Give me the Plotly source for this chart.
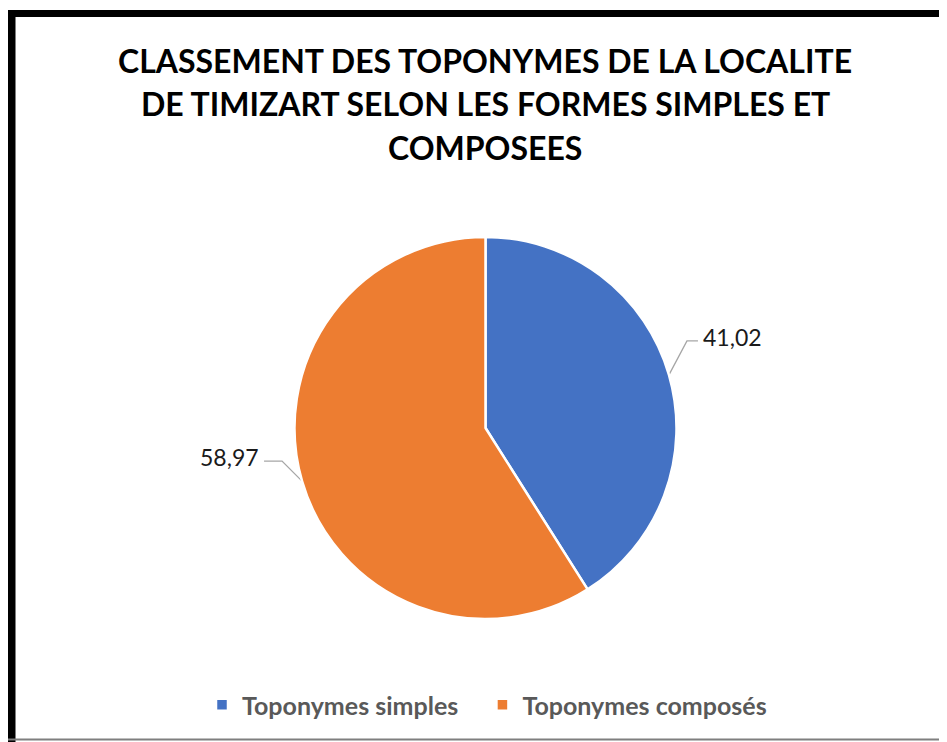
import math
import plotly.graph_objs as go

labels = ["Toponymes simples", "Toponymes composés"]
values = [41.02, 58.97]
colors = ["#4472C4", "#ED7D31"]
title_lines = [
    "CLASSEMENT DES TOPONYMES DE LA LOCALITE",
    "DE TIMIZART SELON LES FORMES SIMPLES ET",
    "COMPOSEES",
]

# page has an 8px body margin, so the figure is a bit smaller and
# everything below is given in window pixels
OFF = 8
W, H = 947, 742
FW, FH = W - OFF, H - OFF
cx, cy, r = 485.5, 428, 191  # pie centre / radius in px

# elbow offsets for leader lines (px), per label
elbow = [(18, -34), (-20, -20)]
tail = [11, -18]

fig = go.Figure()

# trailing spaces widen the gap between the two legend items
legend_names = ["<b>%s</b>\u00a0\u00a0\u00a0" % labels[0], "<b>%s</b>" % labels[1]]
fig.add_trace(go.Pie(
    labels=legend_names, values=values, sort=False,
    direction="clockwise", rotation=0,
    marker=dict(colors=colors, line=dict(color="white", width=2.5)),
    textinfo="none", hoverinfo="skip",
    domain=dict(x=[(cx - r - OFF) / FW, (cx + r - OFF) / FW],
                y=[(H - cy - r) / FH, (H - cy + r) / FH]),
))

# leader lines + labels
total = sum(values)
cum = 0
for i, v in enumerate(values):
    a = 2 * math.pi * (cum + v / 2) / total
    cum += v
    ex, ey = cx + r * math.sin(a), cy - r * math.cos(a)
    bx, by = ex + elbow[i][0], ey + elbow[i][1]
    tx = bx + tail[i]
    fig.add_trace(go.Scatter(x=[ex, bx, tx], y=[ey, by, by], mode="lines",
                             line=dict(color="#A6A6A6", width=1.3),
                             showlegend=False, hoverinfo="skip"))
    txt = ("%.2f" % v).replace(".", ",")
    fig.add_annotation(x=tx + (3 if tail[i] > 0 else -3), y=by - 4, text=txt,
                       xref="x", yref="y", showarrow=False,
                       xanchor="left" if tail[i] > 0 else "right", yanchor="middle",
                       font=dict(family="Lato", size=23, color="#1a1a1a"))

for j, line in enumerate(title_lines):
    fig.add_annotation(x=485, y=60 + 43.5 * j, text="<b>%s</b>" % line, xref="x", yref="y",
                       showarrow=False, xanchor="center", yanchor="middle",
                       font=dict(family="Lato", size=32, color="black"))

# chart frame
fig.add_shape(type="line", x0=11.5, x1=11.5, y0=13, y1=742, xref="x", yref="y",
              line=dict(color="black", width=8))
fig.add_shape(type="line", x0=8, x1=947, y0=13.5, y1=13.5, xref="x", yref="y",
              line=dict(color="black", width=7))
fig.add_shape(type="line", x0=8, x1=947, y0=739.5, y1=739.5, xref="x", yref="y",
              line=dict(color="#7f7f7f", width=2))

fig.update_layout(
    width=FW, height=FH,
    margin=dict(l=0, r=0, t=0, b=0),
    paper_bgcolor="white", plot_bgcolor="white",
    xaxis=dict(range=[OFF, W], visible=False, fixedrange=True),
    yaxis=dict(range=[H, OFF], visible=False, fixedrange=True),
    legend=dict(orientation="h", x=(487 - OFF) / FW, xanchor="center",
                y=(H - 705) / FH, yanchor="middle",
                font=dict(family="Lato", size=25, color="#595959"),
                itemwidth=30, traceorder="normal"),
    font=dict(family="Lato"),
)

fig.write_html("out.html")
